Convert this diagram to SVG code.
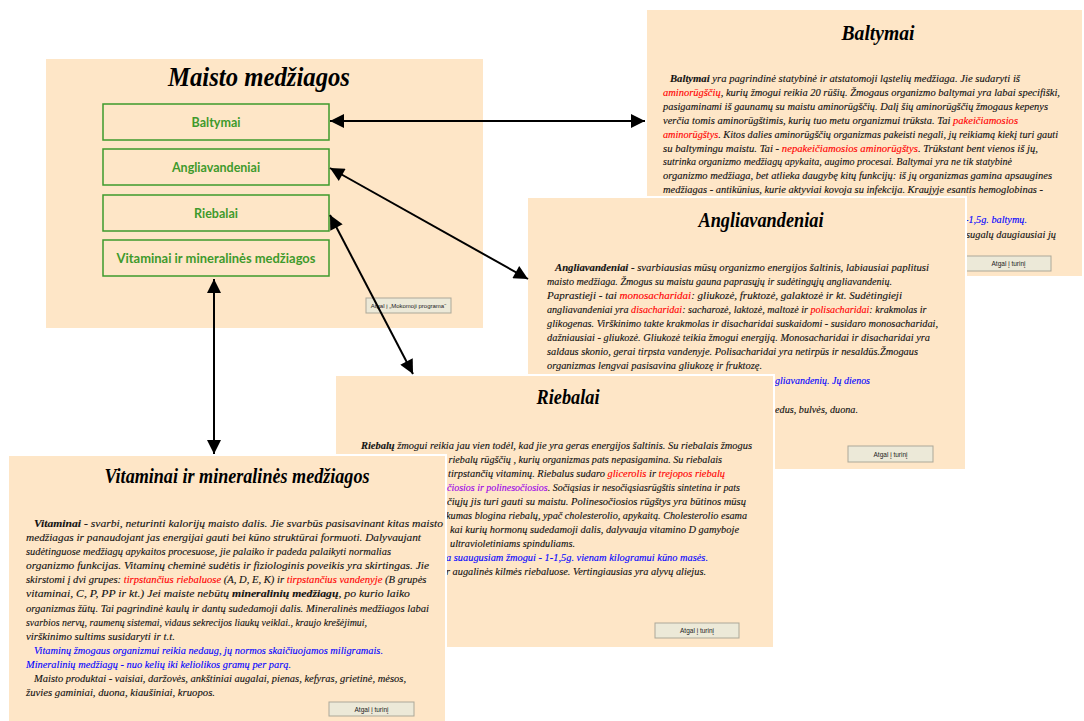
<svg xmlns="http://www.w3.org/2000/svg" width="1084" height="721" viewBox="0 0 1084 721">
  <style>
    .panel { fill: #FEE6C7; stroke: #FFFFFF; stroke-width: 2; }
    .menu { fill: #FEE6C7; }
    .item { fill: none; stroke: #3E9A2C; stroke-width: 1.5; }
    .itemtxt { font-family: Lato, "Liberation Sans", sans-serif; font-weight: bold; font-size: 12.5px; fill: #3E9A2C; text-anchor: middle; }
    .title { font-family: "Liberation Serif", serif; font-style: italic; font-weight: bold; fill: #000; text-anchor: middle; }
    .body { font-family: "Liberation Serif", serif; font-style: italic; font-size: 10.7px; fill: #111; stroke: currentColor; stroke-width: 0.12; color: #111; }
    .s-rb { font-size: 10.4px; }
    .s-vt { font-size: 11.2px; }
    .b { font-weight: bold; }
    .red { fill: #FF0000; color: #FF0000; }
    .blue { fill: #0000FF; color: #0000FF; }
    .violet { fill: #9B00E8; color: #9B00E8; }
    .btn { fill: #ECE9D8; stroke: #ACA899; stroke-width: 1; }
    .btntxt { font-family: "Liberation Sans", sans-serif; font-size: 6.5px; fill: #222; text-anchor: middle; }
    .link { stroke: #000; stroke-width: 2; fill: none; marker-start: url(#head); marker-end: url(#head); }
  </style>
  <defs>
    <marker id="head" viewBox="0 0 10 10" refX="10" refY="5" markerWidth="7.5" markerHeight="7" markerUnits="strokeWidth" orient="auto-start-reverse">
      <path d="M0,0 L10,5 L0,10 Z" fill="#000"/>
    </marker>
  </defs>

  <rect width="1084" height="721" fill="#FFFFFF"/>

  <!-- Main menu -->
  <g id="menu">
    <rect class="menu" x="46" y="59" width="437" height="269"/>
    <text class="title" x="259" y="86" font-size="27" textLength="182" lengthAdjust="spacingAndGlyphs">Maisto medžiagos</text>
    <g id="item-baltymai">
      <rect class="item" x="103" y="104" width="226" height="36"/>
      <text class="itemtxt" x="216" y="127">Baltymai</text>
    </g>
    <g id="item-angliavandeniai">
      <rect class="item" x="103" y="149" width="226" height="36"/>
      <text class="itemtxt" x="216" y="172">Angliavandeniai</text>
    </g>
    <g id="item-riebalai">
      <rect class="item" x="103" y="195" width="226" height="36"/>
      <text class="itemtxt" x="216" y="218">Riebalai</text>
    </g>
    <g id="item-vitaminai">
      <rect class="item" x="103" y="240" width="226" height="36"/>
      <text class="itemtxt" x="216" y="263" textLength="199" lengthAdjust="spacingAndGlyphs">Vitaminai ir mineralinės medžiagos</text>
    </g>
    <rect class="btn" x="366" y="298" width="85" height="15"/>
    <text class="btntxt" x="408.5" y="308" style="font-size:6px">Atgal į „Mokomoji programa“</text>
  </g>

  <!-- Baltymai page -->
  <g id="page-baltymai">
    <rect class="panel" x="646" y="9" width="437" height="268"/>
    <text class="title" x="878" y="40" font-size="21" textLength="73" lengthAdjust="spacingAndGlyphs">Baltymai</text>
    <text class="body" x="670" y="82" textLength="350" lengthAdjust="spacingAndGlyphs"><tspan class="b">Baltymai</tspan> yra pagrindinė statybinė ir atstatomoji ląstelių medžiaga. Jie sudaryti iš</text>
    <text class="body" x="663" y="95.9" textLength="397" lengthAdjust="spacingAndGlyphs"><tspan class="red">aminorūgščių</tspan>, kurių žmogui reikia 20 rūšių. Žmogaus organizmo baltymai yra labai specifiški,</text>
    <text class="body" x="663" y="109.8" textLength="385" lengthAdjust="spacingAndGlyphs">pasigaminami iš gaunamų su maistu aminorūgščių. Dalį šių aminorūgščių žmogaus kepenys</text>
    <text class="body" x="663" y="123.7" textLength="355" lengthAdjust="spacingAndGlyphs">verčia tomis aminorūgštimis, kurių tuo metu organizmui trūksta. Tai <tspan class="red">pakeičiamosios</tspan></text>
    <text class="body" x="663" y="137.6" textLength="395" lengthAdjust="spacingAndGlyphs"><tspan class="red">aminorūgštys</tspan>. Kitos dalies aminorūgščių organizmas pakeisti negali, jų reikiamą kiekį turi gauti</text>
    <text class="body" x="663" y="151.5" textLength="375" lengthAdjust="spacingAndGlyphs">su baltymingu maistu. Tai - <tspan class="red">nepakeičiamosios aminorūgštys</tspan>. Trūkstant bent vienos iš jų,</text>
    <text class="body" x="663" y="165.4" textLength="349" lengthAdjust="spacingAndGlyphs">sutrinka organizmo medžiagų apykaita, augimo procesai. Baltymai yra ne tik statybinė</text>
    <text class="body" x="663" y="179.3" textLength="389" lengthAdjust="spacingAndGlyphs">organizmo medžiaga, bet atlieka daugybę kitų funkcijų: iš jų organizmas gamina apsaugines</text>
    <text class="body" x="663" y="193.2" textLength="380" lengthAdjust="spacingAndGlyphs">medžiagas - antikūnius, kurie aktyviai kovoja su infekcija. Kraujyje esantis hemoglobinas -</text>
    <text class="body blue" x="965" y="223" textLength="62" lengthAdjust="spacingAndGlyphs">-1,5g. baltymų.</text>
    <text class="body" x="966" y="238" textLength="90" lengthAdjust="spacingAndGlyphs">sugalų daugiausiai jų</text>
    <rect class="btn" x="966" y="256" width="85" height="15"/>
    <text class="btntxt" x="1008.5" y="266">Atgal į turinį</text>
  </g>

  <!-- Angliavandeniai page -->
  <g id="page-angliavandeniai">
    <rect class="panel" x="527" y="197" width="439" height="273"/>
    <text class="title" x="761" y="227" font-size="21" textLength="125" lengthAdjust="spacingAndGlyphs">Angliavandeniai</text>
    <text class="body" x="555" y="270.5" textLength="374" lengthAdjust="spacingAndGlyphs"><tspan class="b">Angliavandeniai</tspan> - svarbiausias mūsų organizmo energijos šaltinis, labiausiai paplitusi</text>
    <text class="body" x="547" y="284.5" textLength="345" lengthAdjust="spacingAndGlyphs">maisto medžiaga. Žmogus su maistu gauna paprasųjų ir sudėtingųjų angliavandenių.</text>
    <text class="body" x="547" y="298.5" textLength="355" lengthAdjust="spacingAndGlyphs">Paprastieji - tai <tspan class="red">monosacharidai</tspan>: gliukozė, fruktozė, galaktozė ir kt. Sudėtingieji</text>
    <text class="body" x="547" y="312.5" style="font-size:10.1px">angliavandeniai yra <tspan class="red">disacharidai</tspan>: sacharozė, laktozė, maltozė ir <tspan class="red">polisacharidai</tspan>: krakmolas ir</text>
    <text class="body" x="547" y="326.5" textLength="391" lengthAdjust="spacingAndGlyphs">glikogenas. Virškinimo takte krakmolas ir disacharidai suskaidomi - susidaro monosacharidai,</text>
    <text class="body" x="547" y="340.5" textLength="383" lengthAdjust="spacingAndGlyphs">dažniausiai - gliukozė. Gliukozė teikia žmogui energiją. Monosacharidai ir disacharidai yra</text>
    <text class="body" x="547" y="354.5" textLength="371" lengthAdjust="spacingAndGlyphs">saldaus skonio, gerai tirpsta vandenyje. Polisacharidai yra netirpūs ir nesaldūs.Žmogaus</text>
    <text class="body" x="547" y="368.5" textLength="215" lengthAdjust="spacingAndGlyphs">organizmas lengvai pasisavina gliukozę ir fruktozę.</text>
    <text class="body blue" x="775" y="384" textLength="95" lengthAdjust="spacingAndGlyphs">gliavandenių. Jų dienos</text>
    <text class="body" x="775" y="413" textLength="83" lengthAdjust="spacingAndGlyphs">edus, bulvės, duona.</text>
    <rect class="btn" x="848" y="446" width="85" height="16"/>
    <text class="btntxt" x="890.5" y="456.5">Atgal į turinį</text>
  </g>

  <!-- Riebalai page -->
  <g id="page-riebalai">
    <rect class="panel" x="335" y="375" width="439" height="273"/>
    <text class="title" x="568" y="404" font-size="21" textLength="63" lengthAdjust="spacingAndGlyphs">Riebalai</text>
    <text class="body s-rb" x="361" y="448.5" textLength="391" lengthAdjust="spacingAndGlyphs"><tspan class="b">Riebalų</tspan> žmogui reikia jau vien todėl, kad jie yra geras energijos šaltinis. Su riebalais žmogus</text>
    <text class="body s-rb" x="441" y="462.6" textLength="281" lengthAdjust="spacingAndGlyphs">ų riebalų rūgščių , kurių organizmas pats nepasigamina. Su riebalais</text>
    <text class="body s-rb" x="448" y="476.7" textLength="277" lengthAdjust="spacingAndGlyphs">tirpstančių vitaminų. Riebalus sudaro <tspan class="red">glicerolis</tspan> ir <tspan class="red">trejopos riebalų</tspan></text>
    <text class="body s-rb" x="447" y="490.8" textLength="293" lengthAdjust="spacingAndGlyphs"><tspan class="violet">čiosios ir polinesočiosios</tspan>. Sočiąsias ir nesočiąsiasrūgštis sintetina ir pats</text>
    <text class="body s-rb" x="447" y="504.9" textLength="299" lengthAdjust="spacingAndGlyphs">čiųjų jis turi gauti su maistu. Polinesočiosios rūgštys yra būtinos mūsų</text>
    <text class="body s-rb" x="446" y="519" textLength="301" lengthAdjust="spacingAndGlyphs">kumas blogina riebalų, ypač cholesterolio, apykaitą. Cholesterolio esama</text>
    <text class="body s-rb" x="450" y="533.1" textLength="289" lengthAdjust="spacingAndGlyphs">kai kurių hormonų sudedamoji dalis, dalyvauja vitamino D gamyboje</text>
    <text class="body s-rb" x="450" y="547.2" textLength="125" lengthAdjust="spacingAndGlyphs">ultravioletiniams spinduliams.</text>
    <text class="body s-rb blue" x="446" y="561.3" textLength="262" lengthAdjust="spacingAndGlyphs">a suaugusiam žmogui - 1-1,5g. vienam kilogramui kūno masės.</text>
    <text class="body s-rb" x="446" y="575.4" textLength="260" lengthAdjust="spacingAndGlyphs">r augalinės kilmės riebaluose. Vertingiausias yra alyvų aliejus.</text>
    <rect class="btn" x="655" y="623" width="84" height="15"/>
    <text class="btntxt" x="697" y="633">Atgal į turinį</text>
  </g>

  <!-- Vitaminai ir mineralinės medžiagos page -->
  <g id="page-vitaminai">
    <rect class="panel" x="8" y="455" width="438" height="267"/>
    <text class="title" x="237" y="483" font-size="21" textLength="265" lengthAdjust="spacingAndGlyphs">Vitaminai ir mineralinės medžiagos</text>
    <text class="body s-vt" x="34" y="527" textLength="409" lengthAdjust="spacingAndGlyphs"><tspan class="b">Vitaminai</tspan> - svarbi, neturinti kalorijų maisto dalis. Jie svarbūs pasisavinant kitas maisto</text>
    <text class="body s-vt" x="26" y="541.1" textLength="395" lengthAdjust="spacingAndGlyphs">medžiagas ir panaudojant jas energijai gauti bei kūno struktūrai formuoti. Dalyvaujant</text>
    <text class="body s-vt" x="26" y="555.2" textLength="365" lengthAdjust="spacingAndGlyphs">sudėtinguose medžiagų apykaitos procesuose, jie palaiko ir padeda palaikyti normalias</text>
    <text class="body s-vt" x="26" y="569.2" textLength="403" lengthAdjust="spacingAndGlyphs">organizmo funkcijas. Vitaminų cheminė sudėtis ir fiziologinis poveikis yra skirtingas. Jie</text>
    <text class="body s-vt" x="26" y="583.3" style="font-size:10.6px">skirstomi į dvi grupes: <tspan class="red">tirpstančius riebaluose</tspan> (A, D, E, K) ir <tspan class="red">tirpstančius vandenyje</tspan> (B grupės</text>
    <text class="body s-vt" x="26" y="597.4" textLength="384" lengthAdjust="spacingAndGlyphs">vitaminai, C, P, PP ir kt.) Jei maiste nebūtų <tspan class="b">mineralinių medžiagų</tspan>, po kurio laiko</text>
    <text class="body s-vt" x="26" y="611.5" textLength="403" lengthAdjust="spacingAndGlyphs">organizmas žūtų. Tai pagrindinė kaulų ir dantų sudedamoji dalis. Mineralinės medžiagos labai</text>
    <text class="body s-vt" x="26" y="625.6" textLength="341" lengthAdjust="spacingAndGlyphs">svarbios nervų, raumenų sistemai, vidaus sekrecijos liaukų veiklai., kraujo krešėjimui,</text>
    <text class="body s-vt" x="26" y="639.6" textLength="149" lengthAdjust="spacingAndGlyphs">virškinimo sultims susidaryti ir t.t.</text>
    <text class="body s-vt blue" x="34" y="653.7" textLength="349" lengthAdjust="spacingAndGlyphs">Vitaminų žmogaus organizmui reikia nedaug, jų normos skaičiuojamos miligramais.</text>
    <text class="body s-vt blue" x="26" y="667.8" textLength="265" lengthAdjust="spacingAndGlyphs">Mineralinių medžiagų - nuo kelių iki keliolikos gramų per parą.</text>
    <text class="body s-vt" x="34" y="681.9" textLength="372" lengthAdjust="spacingAndGlyphs">Maisto produktai - vaisiai, daržovės, ankštiniai augalai, pienas, kefyras, grietinė, mėsos,</text>
    <text class="body s-vt" x="26" y="696" textLength="189" lengthAdjust="spacingAndGlyphs">žuvies gaminiai, duona, kiaušiniai, kruopos.</text>
    <rect class="btn" x="329" y="702" width="85" height="14"/>
    <text class="btntxt" x="371.5" y="711.5">Atgal į turinį</text>
  </g>

  <!-- Links between menu items and their pages -->
  <g id="connectors">
    <line class="link" x1="330" y1="121" x2="645" y2="121"/>
    <line class="link" x1="330" y1="168" x2="528" y2="279"/>
    <line class="link" x1="330" y1="215" x2="413" y2="374"/>
    <line class="link" x1="214" y1="279" x2="214" y2="454"/>
  </g>
</svg>
